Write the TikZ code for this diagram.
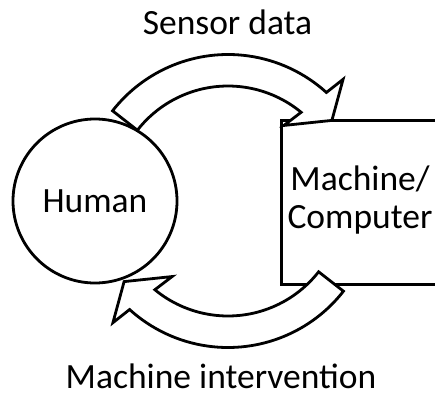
\documentclass[tikz,border=0pt]{standalone}
\usepackage{fontspec}
\setmainfont{Carlito}
\begin{document}
\begin{tikzpicture}[x=1pt, y=1pt,
  outline/.style={draw=black, line width=2.8pt},
  blockarrow/.style={outline, fill=white, miter limit=10},
  lbl/.style={font=\fontsize{35.5}{38}\selectfont, inner sep=0pt}]
\useasboundingbox (0,0) rectangle (435,-393);
\clip (0,0) rectangle (435,-393);
% centre of the ring the two curved arrows run along
\coordinate (ring) at (228,-201);
% the two parties
\node[outline, circle, minimum size=164pt, inner sep=0pt] (human) at (95,-201) {};
\node[outline, rectangle, minimum width=170pt, minimum height=164pt, anchor=north west] (machine) at (280,-119) {};
\node[lbl, anchor=base] (humanlabel) at (human.center |- 0,-212) {Human};
% base anchor of a two-line node sits on its last line
\node[lbl, anchor=base, align=center] (machinelabel) at (360,-228) {Machine/\\Computer};
% labels of the two flows
\node[lbl, anchor=base] (sensorlabel) at (227.5,-35) {Sensor data};
\node[lbl, anchor=base] (interventionlabel) at (221,-388) {Machine intervention};
% curved block arrows: human -> machine on top, machine -> human below
\foreach \turn/\name in {0/sensorflow, 180/interventionflow}{
  \begin{scope}[shift={(ring)}, rotate=\turn]
    \draw[blockarrow] (142:146.5) coordinate (\name-tail)
      arc[start angle=142, end angle=47.8, radius=146.5]
      -- (46.6:167.5) -- (37.8:131.5) coordinate (\name-tip) -- (53.5:94) -- (50.5:115)
      arc[start angle=50.5, end angle=142, radius=115] -- cycle;
  \end{scope}
}
\end{tikzpicture}
\end{document}
